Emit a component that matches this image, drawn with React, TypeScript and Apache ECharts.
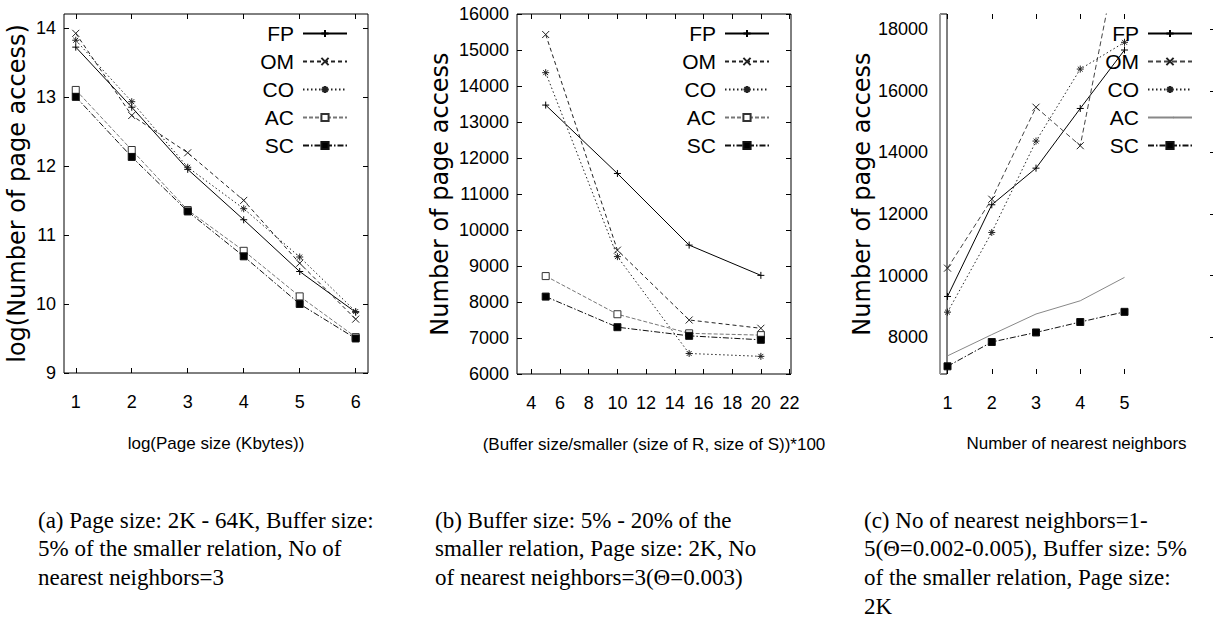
import React, { useEffect, useRef } from 'react';
import * as echarts from 'echarts';

// ---------- data ----------
const NAMES = ['FP', 'OM', 'CO', 'AC', 'SC'];

// (a) log(page size) vs log(page access)
const aX = [1, 2, 3, 4, 5, 6];
const aFP = [13.72, 12.85, 11.95, 11.22, 10.47, 9.88];
const aOM = [13.92, 12.73, 12.19, 11.5, 10.59, 9.78];
const aCO = [13.82, 12.93, 11.98, 11.38, 10.68, 9.89];
const aAC = [13.1, 12.23, 11.36, 10.77, 10.11, 9.52];
const aSC = [13.0, 12.13, 11.34, 10.69, 10.0, 9.5];
const aXTicks = [1, 2, 3, 4, 5, 6];
const aYTicks = [9, 10, 11, 12, 13, 14];

// (b) buffer size vs page access
const bX = [5, 10, 15, 20];
const bFP = [13470, 11570, 9580, 8740];
const bOM = [15430, 9440, 7500, 7270];
const bCO = [14370, 9260, 6570, 6490];
const bAC = [8720, 7660, 7130, 7080];
const bSC = [8150, 7300, 7060, 6950];
const bXTicks = [4, 6, 8, 10, 12, 14, 16, 18, 20, 22];
const bYTicks = [6000, 7000, 8000, 9000, 10000, 11000, 12000, 13000, 14000, 15000, 16000];

// (c) nearest neighbours vs page access
const cX = [1, 2, 3, 4, 5];
const cFP = [9320, 12300, 13490, 15430, 17330];
const cOM = [10240, 12480, 15470, 14220, 21500];
const cCO = [8810, 11400, 14370, 16710, 17580];
const cAC = [7390, 8080, 8750, 9180, 9940];
const cSC = [7050, 7840, 8150, 8490, 8820];
const cXTicks = [1, 2, 3, 4, 5];
const cYTicks = [8000, 10000, 12000, 14000, 16000, 18000];

const captionA = [
  '(a) Page size: 2K - 64K, Buffer size:',
  '5% of the smaller relation, No of',
  'nearest neighbors=3',
];
const captionB = [
  '(b) Buffer size: 5% - 20% of the',
  'smaller relation, Page size: 2K, No',
  'of nearest neighbors=3(Θ=0.003)',
];
const captionC = [
  '(c) No of nearest neighbors=1-',
  '5(Θ=0.002-0.005), Buffer size: 5%',
  'of the smaller relation, Page size:',
  '2K',
];

// ---------- styles ----------
const SANS = "'Liberation Sans', Arial, sans-serif";
const WIDE = "'DejaVu Sans', 'Liberation Sans', sans-serif";
const SERIF = "'Liberation Serif', 'DejaVu Serif', serif";

const PLUS = 'path://M0,5L10,5M5,0L5,10';
const CROSS = 'path://M0,0L10,10M10,0L0,10';
const STAR = 'path://M0,5L10,5M5,0L5,10M1.5,1.5L8.5,8.5M8.5,1.5L1.5,8.5';
const DOT = 'path://M0,0L0.01,0M4.8,5L5.2,5M0,10L0.01,10';

type St = { color: string; dash: any; symbol: string; fill: string; border: string; size: number; show: boolean };
const baseStyle: Record<string, St> = {
  FP: { color: '#000', dash: 'solid', symbol: PLUS, fill: '#000', border: '#000', size: 7, show: true },
  OM: { color: '#222', dash: [4, 3], symbol: CROSS, fill: '#000', border: '#222', size: 7, show: true },
  CO: { color: '#222', dash: [1.5, 2.5], symbol: STAR, fill: '#000', border: '#222', size: 7, show: true },
  AC: { color: '#777', dash: [4, 2], symbol: 'rect', fill: '#fff', border: '#333', size: 7, show: true },
  SC: { color: '#111', dash: [6, 2, 1.5, 2], symbol: 'rect', fill: '#000', border: '#111', size: 7, show: true },
};
const cOverride: Record<string, Partial<St>> = {
  OM: { color: '#444', dash: [5, 3] },
  AC: { color: '#888', dash: 'solid', symbol: DOT, border: '#888', show: false },
};

function mkSeries(panel: string, name: string, xs: number[], ys: number[], axis: number) {
  const st = { ...baseStyle[name], ...(panel === 'c' ? cOverride[name] || {} : {}) } as St;
  return {
    type: 'line',
    name: panel + ':' + name,
    xAxisIndex: axis,
    yAxisIndex: axis,
    data: xs.map((x, i) => [x, ys[i]]),
    symbol: st.symbol,
    symbolSize: st.size,
    showSymbol: st.show,
    lineStyle: { color: st.color, width: 1, type: st.dash },
    itemStyle: { color: st.fill, borderColor: st.border, borderWidth: 1 },
    emphasis: { disabled: true },
    silent: true,
    animation: false,
    z: 3,
  };
}

const tickStyle = (len: number) => ({ show: true, inside: true, length: len, lineStyle: { color: '#000', width: 1 } });
const labelStyle = (ticks: number[], margin: number) => ({
  show: true,
  customValues: ticks,
  margin,
  fontSize: 18,
  fontFamily: SANS,
  color: '#000',
  formatter: (v: number) => String(v),
});

function xAxes(grid: number, min: number, max: number, ticks: number[], name: string, gap: number) {
  return [
    {
      type: 'value', gridIndex: grid, min, max, position: 'bottom',
      axisLine: { show: false }, splitLine: { show: false },
      axisTick: { ...tickStyle(5), customValues: ticks },
      axisLabel: labelStyle(ticks, 20),
      name, nameLocation: 'middle', nameGap: gap,
      nameTextStyle: { fontSize: 17, fontFamily: SANS, color: '#000' },
    },
    {
      type: 'value', gridIndex: grid, min, max, position: 'top',
      axisLine: { show: false }, splitLine: { show: false },
      axisTick: { ...tickStyle(5), customValues: ticks },
      axisLabel: { show: false },
    },
  ];
}

function yAxes(grid: number, min: number, max: number, ticks: number[], name: string, gap: number, margin: number, len: number) {
  return [
    {
      type: 'value', gridIndex: grid, min, max, position: 'left',
      axisLine: { show: false }, splitLine: { show: false },
      axisTick: { ...tickStyle(len), customValues: ticks },
      axisLabel: labelStyle(ticks, margin),
      name, nameLocation: 'middle', nameGap: gap, nameRotate: 90,
      nameTextStyle: { fontSize: 24, fontFamily: WIDE, color: '#000' },
    },
    {
      type: 'value', gridIndex: grid, min, max, position: 'right',
      axisLine: { show: false }, splitLine: { show: false },
      axisTick: { ...tickStyle(len), customValues: ticks },
      axisLabel: { show: false },
    },
  ];
}

function mkLegend(panel: string, right: number) {
  return {
    data: NAMES.map((n) => panel + ':' + n),
    orient: 'vertical',
    align: 'right',
    right,
    top: 23,
    itemWidth: 44,
    itemHeight: 9,
    itemGap: 7,
    padding: 0,
    selectedMode: false,
    formatter: (n: string) => n.slice(2),
    textStyle: { fontSize: 21, fontFamily: SANS, color: '#000', padding: [0, 4, 0, 0] },
  };
}

const GRID_C = { left: 940, right: 5, top: 14, bottom: 246 };

function buildOption() {
  const aData = [aFP, aOM, aCO, aAC, aSC];
  const bData = [bFP, bOM, bCO, bAC, bSC];
  const cData = [cFP, cOM, cCO, cAC, cSC];
  const series = [
    ...NAMES.map((n, i) => mkSeries('a', n, aX, aData[i], 0)),
    ...NAMES.map((n, i) => mkSeries('b', n, bX, bData[i], 2)),
    ...NAMES.map((n, i) => mkSeries('c', n, cX, cData[i], 4)),
  ];

  const captions: any[] = [];
  const capX = [38, 435, 864];
  [captionA, captionB, captionC].forEach((lines, k) => {
    lines.forEach((t, i) => {
      captions.push({
        type: 'text',
        x: capX[k],
        y: 520 + i * 28.7,
        silent: true,
        style: { text: t, fontSize: 23, fontFamily: SERIF, fill: '#000', verticalAlign: 'middle', align: 'left' },
      });
    });
  });

  const cHeight = 620 - GRID_C.top - GRID_C.bottom;

  return {
    animation: false,
    backgroundColor: '#fff',
    textStyle: { fontFamily: SANS },
    grid: [
      { left: 64, right: 850, top: 14, bottom: 247, show: true, borderColor: '#000', borderWidth: 1, backgroundColor: 'transparent', outerBoundsMode: 'none' },
      { left: 517, right: 427, top: 14, bottom: 246, show: true, borderColor: '#000', borderWidth: 1, backgroundColor: 'transparent', outerBoundsMode: 'none' },
      { ...GRID_C, show: false, outerBoundsMode: 'none' },
    ],
    xAxis: [
      ...xAxes(0, 0.79, 6.22, aXTicks, 'log(Page size (Kbytes))', 62),
      ...xAxes(1, 3, 22.1, bXTicks, '(Buffer size/smaller (size of R, size of S))*100', 62),
      ...xAxes(2, 0.83, 7, cXTicks, 'Number of nearest neighbors', 61),
    ],
    yAxis: [
      ...yAxes(0, 9, 14.2, aYTicks, 'log(Number of page access)', 35, 8, 5),
      ...yAxes(1, 6000, 16000, bYTicks, 'Number of page access', 65, 8, 5),
      ...yAxes(2, 6800, 18500, cYTicks, 'Number of page access', 66, 12, 3),
    ],
    legend: [mkLegend('a', 870), mkLegend('b', 448), mkLegend('c', 25)],
    series,
    graphic: [
      {
        type: 'rect',
        silent: true,
        z: 1,
        shape: { x: GRID_C.left, y: GRID_C.top, width: 7, height: cHeight },
        style: { fill: '#fff', stroke: '#000', lineWidth: 1 },
      },
      {
        type: 'line',
        silent: true,
        z: 1,
        shape: { x1: GRID_C.left, y1: GRID_C.top, x2: GRID_C.left, y2: GRID_C.top + cHeight },
        style: { stroke: '#999', lineWidth: 2 },
      },
      ...captions,
    ],
  };
}

export default function App() {
  const ref = useRef<HTMLDivElement>(null);
  useEffect(() => {
    if (!ref.current) return;
    const chart = echarts.init(ref.current, null, { renderer: 'svg' });
    chart.setOption(buildOption() as any);
    return () => chart.dispose();
  }, []);
  return (
    <div
      ref={ref}
      style={{ position: 'fixed', left: 0, top: 0, width: 1218, height: 620, background: '#fff' }}
    />
  );
}
